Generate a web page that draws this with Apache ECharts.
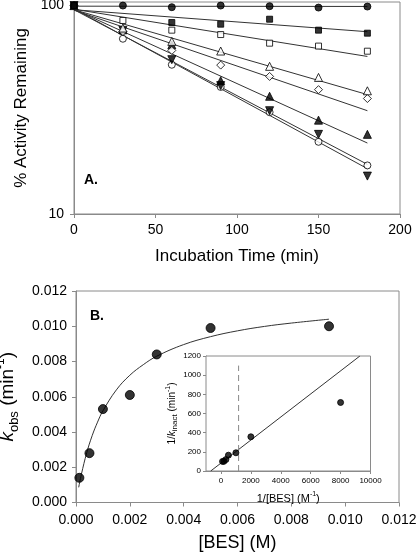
<!DOCTYPE html>
<html>
<head>
<meta charset="utf-8">
<script src="https://cdn.jsdelivr.net/npm/echarts@6/dist/echarts.min.js"></script>
<style>
html,body{margin:0;padding:0;background:#fff;}
#c{width:416px;height:554px;}
</style>
</head>
<body>
<div id="c"></div>
<script>
// ---------- Panel A data ----------
const timeMin = [0, 30, 60, 90, 120, 150, 180];
const actFilledCircle = [100, 100, 98.2, 100, 99.3, 97.8, 98.9];
const actFilledSquare = [100, null, 82.9, 81.4, 86.0, 76.2, 73.7];
const actOpenSquare = [100, 84.8, 76.2, 72.6, 66.0, 63.9, 60.4];
const actOpenTriangle = [100, 78, 67.3, 60.5, 51.1, 45.2, 39.0];
const actOpenDiamond = [100, 75, 60.9, 51.8, 45.7, 39.5, 35.8];
const actFilledTriangle = [100, 76.5, 64.8, 43.6, 36.7, 28.2, 24.1];
const actFilledDownTriangle = [100, 76, 55.0, 41.3, 31.3, 24.1, 15.2];
const actOpenCircle = [100, 69.3, 52.0, 40.7, 30.8, 22.2, 17.1];

// fit lines (start at t=0, end at t=180)
const fitTime = [0, 180];
const fitFilledCircle = [99.3, 99.0];
const fitFilledSquare = [95.5, 74.9];
const fitOpenSquare = [96.0, 57.0];
const fitOpenTriangle = [95.5, 37.4];
const fitOpenDiamond = [95.0, 31.3];
const fitFilledTriangle = [96.0, 21.9];
const fitFilledDownTriangle = [96.5, 16.5];
const fitOpenCircle = [95.5, 17.3];

const xTicksA = [0, 50, 100, 150, 200];
const yTicksA = [10, 100];

// ---------- Panel B data ----------
const besConc = [0.000125, 0.0005, 0.001, 0.002, 0.003, 0.005, 0.0094];
const kObs = [0.0014, 0.0028, 0.0053, 0.0061, 0.0084, 0.0099, 0.0100];
const curveX = [0.0001, 0.0002, 0.0004, 0.0006, 0.0008, 0.001, 0.0015, 0.002, 0.0025, 0.003, 0.004, 0.005, 0.006, 0.007, 0.008, 0.0094];
const curveY = [0.00086, 0.0016, 0.00283, 0.00379, 0.00456, 0.0052, 0.00639, 0.00722, 0.00782, 0.0083, 0.00896, 0.00941, 0.00974, 0.00999, 0.01018, 0.0104];

// ---------- Inset data ----------
const invBes = [106, 200, 330, 500, 1000, 2000, 8000];
const invK = [100, 101, 119, 165, 190, 357, 715];
const insetFitX = [-685, 9290];
const insetFitY = [0, 1200];
const insetDashX = [1180, 1180];
const insetDashY = [0, 1100];
const insetXTicks = [0, 2000, 4000, 6000, 8000, 10000];

// ---------- helpers ----------
const FONT = "'Liberation Sans', Arial, sans-serif";
const AXC = '#8a8a8a';
const pairs = (xs, ys) => xs.map((x, i) => [x, ys[i]]).filter(p => p[1] !== null && p[1] !== undefined);
const plain = v => String(Math.round(v));

function axisBase(fontSize, margin, tickLen) {
  return {
    axisLine: { show: true, onZero: false, lineStyle: { color: AXC, width: 1 } },
    axisTick: { show: true, inside: false, length: tickLen, lineStyle: { color: AXC, width: 1 } },
    axisLabel: { color: '#000', fontFamily: FONT, fontSize: fontSize, margin: margin },
    splitLine: { show: false },
    nameTextStyle: { color: '#000', fontFamily: FONT }
  };
}

const filled = { color: '#000', borderColor: '#000', borderWidth: 1 };
const open = { color: '#fff', borderColor: '#000', borderWidth: 1 };

function scatterA(name, ys, symbol, size, style, rotate) {
  return {
    type: 'scatter', name: name, xAxisIndex: 0, yAxisIndex: 0,
    data: pairs(timeMin, ys), symbol: symbol, symbolSize: size,
    symbolRotate: rotate || 0, itemStyle: style, z: 5, silent: true
  };
}
function fitA(ys) {
  return {
    type: 'line', xAxisIndex: 0, yAxisIndex: 0, data: pairs(fitTime, ys),
    symbol: 'none', lineStyle: { color: '#333', width: 1 }, z: 3, silent: true
  };
}

const chart = echarts.init(document.getElementById('c'), null, { renderer: 'canvas' });

const option = {
  animation: false,
  backgroundColor: '#fff',
  grid: [
    { left: 74, top: 2, width: 326, height: 212, show: true, borderColor: AXC, borderWidth: 1, backgroundColor: 'transparent', outerBoundsMode: 'none', containLabel: false },
    { left: 76, top: 291, width: 323, height: 211.5, show: true, borderColor: AXC, borderWidth: 1, backgroundColor: 'transparent', outerBoundsMode: 'none', containLabel: false },
    { left: 206, top: 356, width: 164.5, height: 115, show: true, borderColor: AXC, borderWidth: 1, backgroundColor: '#fff', outerBoundsMode: 'none', containLabel: false, z: 10 }
  ],
  xAxis: [
    Object.assign(axisBase(14, 9, 4), {
      type: 'value', gridIndex: 0, min: 0, max: 200, interval: 50,
      name: 'Incubation Time (min)', nameLocation: 'middle', nameGap: 34,
      nameTextStyle: { color: '#000', fontFamily: FONT, fontSize: 17 }
    }),
    Object.assign(axisBase(14, 11, 4), {
      type: 'value', gridIndex: 1, min: 0, max: 0.012, interval: 0.002,
      name: '[BES] (M)', nameLocation: 'middle', nameGap: 32,
      nameTextStyle: { color: '#000', fontFamily: FONT, fontSize: 18 },
      axisLabel: { color: '#000', fontFamily: FONT, fontSize: 14, margin: 11, formatter: v => v.toFixed(3) }
    }),
    Object.assign(axisBase(8, 6, 3), {
      type: 'value', gridIndex: 2, min: -1000, max: 10000,
      axisLabel: { color: '#000', fontFamily: FONT, fontSize: 8, margin: 6, customValues: insetXTicks, formatter: plain },
      axisTick: { show: true, length: 3, lineStyle: { color: AXC }, customValues: insetXTicks },
      name: '{n|1/[BES] (M}{sup|-1}{n|)}', nameLocation: 'middle', nameGap: 20,
      nameTextStyle: {
        color: '#000', fontFamily: FONT, fontSize: 11,
        rich: {
          n: { fontFamily: FONT, fontSize: 11, lineHeight: 15, color: '#000' },
          sup: { fontFamily: FONT, fontSize: 7, lineHeight: 8, verticalAlign: 'top', color: '#000' }
        }
      }
    })
  ],
  yAxis: [
    Object.assign(axisBase(14, 10, 4), {
      type: 'log', logBase: 10, gridIndex: 0, min: 10, max: 104,
      axisLabel: { color: '#000', fontFamily: FONT, fontSize: 14, margin: 10, customValues: yTicksA },
      axisTick: { show: true, length: 4, lineStyle: { color: AXC }, customValues: yTicksA },
      minorTick: { show: false },
      name: '% Activity Remaining', nameLocation: 'middle', nameGap: 43, nameRotate: 90,
      nameTextStyle: { color: '#000', fontFamily: FONT, fontSize: 17 }
    }),
    Object.assign(axisBase(14, 9, 4), {
      type: 'value', gridIndex: 1, min: 0, max: 0.012, interval: 0.002,
      axisLabel: { color: '#000', fontFamily: FONT, fontSize: 14, margin: 9, formatter: v => v.toFixed(3) },
      name: '{k|k}{sub|obs}{n| (min}{sup|-1}{n|)}', nameLocation: 'middle', nameGap: 50, nameRotate: 90,
      nameTextStyle: {
        color: '#000', fontFamily: FONT, fontSize: 18,
        rich: {
          k: { fontFamily: FONT, fontSize: 19, fontStyle: 'italic', lineHeight: 26, color: '#000' },
          sub: { fontFamily: FONT, fontSize: 13, lineHeight: 17, verticalAlign: 'bottom', color: '#000' },
          n: { fontFamily: FONT, fontSize: 19, lineHeight: 26, color: '#000' },
          sup: { fontFamily: FONT, fontSize: 12, lineHeight: 13, verticalAlign: 'top', color: '#000' }
        }
      }
    }),
    Object.assign(axisBase(8, 5, 3), {
      type: 'value', gridIndex: 2, min: 0, max: 1200, interval: 200,
      axisLabel: { color: '#000', fontFamily: FONT, fontSize: 8, margin: 5, formatter: plain },
      name: '{n|1/}{k|k}{sub|inact}{n| (min}{sup|-1}{n|)}', nameLocation: 'middle', nameGap: 27, nameRotate: 90,
      nameTextStyle: {
        color: '#000', fontFamily: FONT, fontSize: 10,
        rich: {
          n: { fontFamily: FONT, fontSize: 10, lineHeight: 14, color: '#000' },
          k: { fontFamily: FONT, fontSize: 10, fontStyle: 'italic', lineHeight: 14, color: '#000' },
          sub: { fontFamily: FONT, fontSize: 8, lineHeight: 10, verticalAlign: 'bottom', color: '#000' },
          sup: { fontFamily: FONT, fontSize: 7, lineHeight: 8, verticalAlign: 'top', color: '#000' }
        }
      }
    })
  ],
  graphic: [
    { type: 'text', left: 84, top: 173, style: { text: 'A.', font: "bold 14px 'Liberation Sans', Arial, sans-serif", fill: '#000' } },
    { type: 'text', left: 90, top: 309, style: { text: 'B.', font: "bold 14px 'Liberation Sans', Arial, sans-serif", fill: '#000' } }
  ],
  series: [
    fitA(fitFilledCircle), fitA(fitFilledSquare), fitA(fitOpenSquare), fitA(fitOpenTriangle),
    fitA(fitOpenDiamond), fitA(fitFilledTriangle), fitA(fitFilledDownTriangle), fitA(fitOpenCircle),
    scatterA('openCircle', actOpenCircle, 'circle', 7, open),
    scatterA('filledDown', actFilledDownTriangle, 'triangle', 8, filled, 180),
    scatterA('filledTri', actFilledTriangle, 'triangle', 8, filled),
    scatterA('openDiamond', actOpenDiamond, 'diamond', 8, open),
    scatterA('openTri', actOpenTriangle, 'triangle', 8, open),
    scatterA('openSquare', actOpenSquare, 'rect', 6, open),
    scatterA('filledSquare', actFilledSquare, 'rect', 6, filled),
    scatterA('filledCircle', actFilledCircle, 'circle', 7, filled),
    {
      type: 'line', xAxisIndex: 1, yAxisIndex: 1, data: pairs(curveX, curveY), smooth: 0.4,
      symbol: 'none', lineStyle: { color: '#333', width: 1 }, z: 3, silent: true
    },
    {
      type: 'scatter', xAxisIndex: 1, yAxisIndex: 1, data: pairs(besConc, kObs),
      symbol: 'circle', symbolSize: 9, itemStyle: filled, z: 5, silent: true
    },
    {
      type: 'line', xAxisIndex: 2, yAxisIndex: 2, data: pairs(insetFitX, insetFitY),
      symbol: 'none', lineStyle: { color: '#333', width: 1 }, z: 12, silent: true
    },
    {
      type: 'line', xAxisIndex: 2, yAxisIndex: 2, data: pairs(insetDashX, insetDashY),
      symbol: 'none', lineStyle: { color: '#888', width: 1, type: [6, 4] }, z: 12, silent: true
    },
    {
      type: 'scatter', xAxisIndex: 2, yAxisIndex: 2, data: pairs(invBes, invK),
      symbol: 'circle', symbolSize: 6, itemStyle: filled, z: 13, silent: true
    }
  ]
};
chart.setOption(option);
</script>
</body>
</html>
